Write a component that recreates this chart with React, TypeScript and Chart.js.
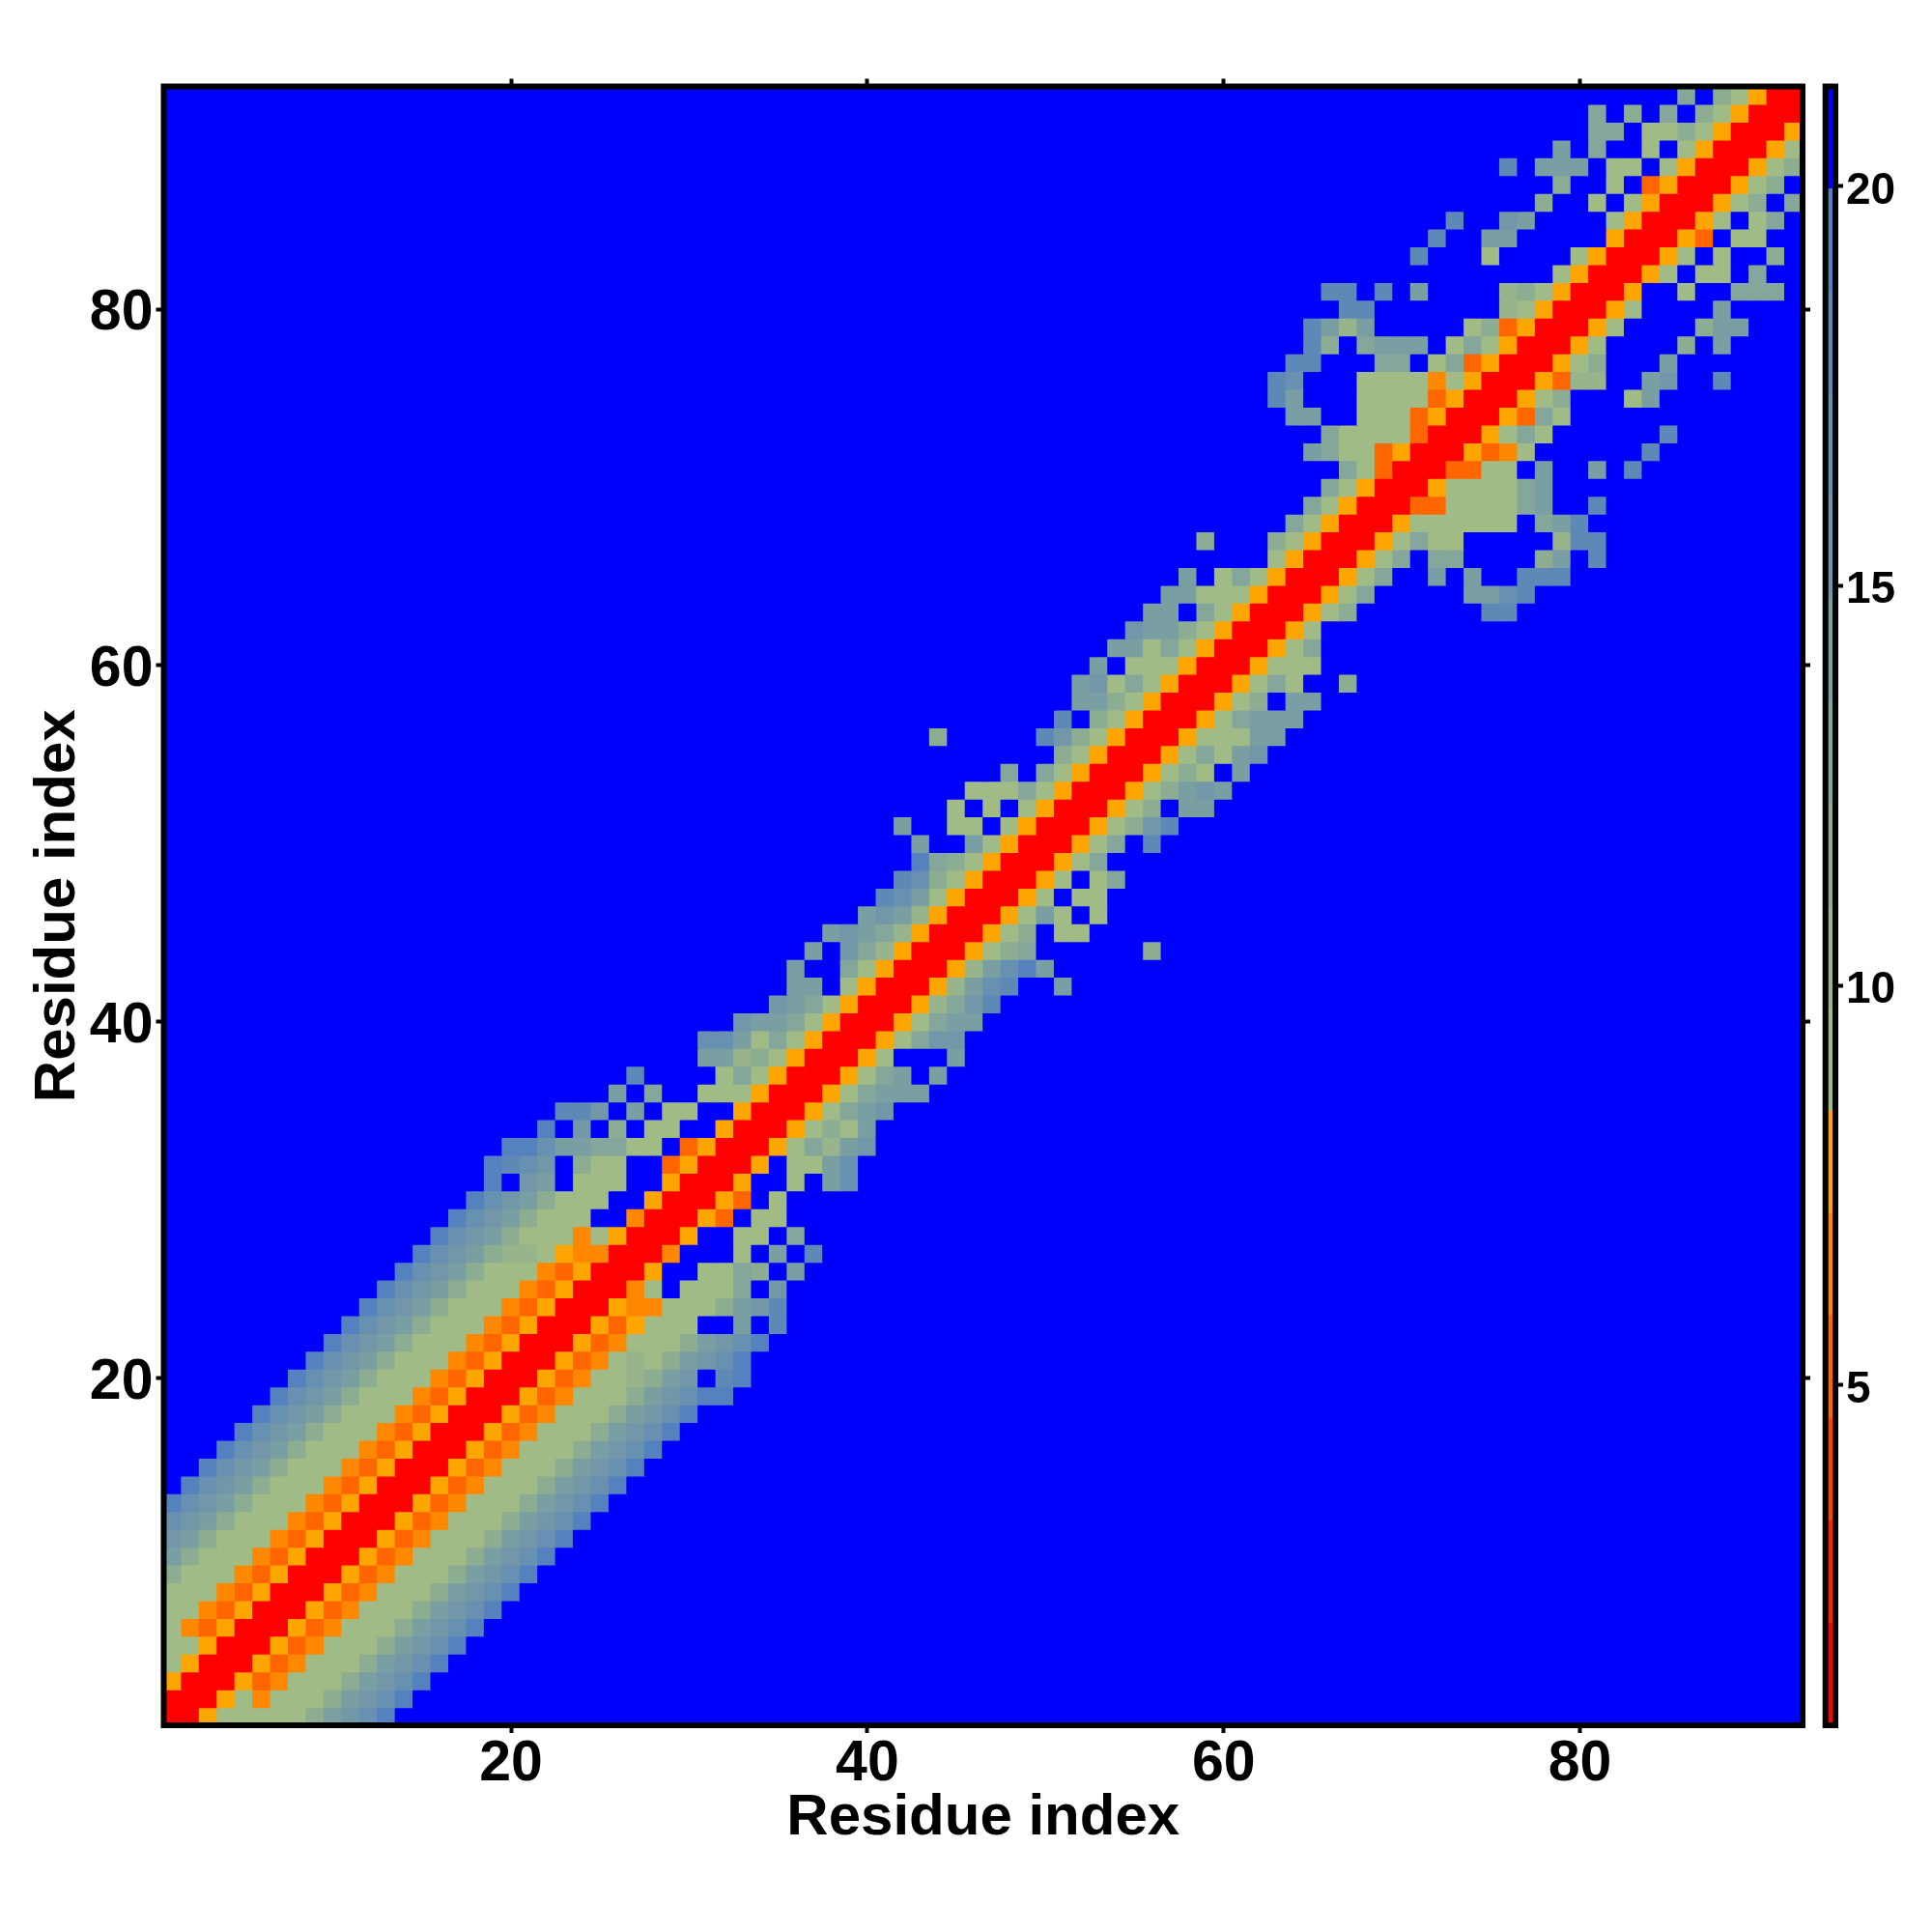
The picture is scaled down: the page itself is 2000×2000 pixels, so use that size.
import React, { useEffect, useRef } from "react";
import { Chart, registerables } from "chart.js";

Chart.register(...registerables);

const residueCount = 92;
const axisTicks = [20, 40, 60, 80];
const legendTicks = [5, 10, 15, 20];
const axisTitle = "Residue index";
const legendMin = 0.745;
const legendMax = 21.25;

// 16 colour bands of the legend, lowest first.
const bandColors = [
  "#ff0000", "#ff2200", "#ff4400", "#ff6600", "#ff8800", "#ffa500",
  "#a0bb85", "#97b48c", "#8dad93", "#84a69b", "#7a9fa2", "#7197a9",
  "#6890b0", "#5e89b7", "#5582be", "#0000ff",
];

// Upper triangle, one string per residue i. Character n is the band (hex) of the
// pair (i, i + n); every pair past the end of a string is in the top band.
const bandRows = [
  "005666668abce", "005646668abce", "005346668abce", "005346668abce", "005346668abce",
  "005346668abce", "005346668abce", "005346668abce", "005346668abce", "005346668abce",
  "005346668abce", "005346668abce", "005346668abce", "005346668abce", "005346668abce",
  "005346668abce", "005346668abce", "005346668abce", "005346668abcee", "005346678abfde",
  "005346768abce", "005346668abce", "00535666ffafd", "005446668abd", "0046f6669fb",
  "005ff6698fa", "004fff6fafd", "005ff66f9", "0053f66", "0053f6",
  "005ff6fac", "005f66ac", "005697ab", "005686a", "00569ab",
  "00569aaa", "00569afa", "0056fffa", "00569bb", "00569aa",
  "00579bd", "0057acdffa", "0057acea", "005689ffffff8", "00568f66",
  "0056a6f6", "0056f66", "0056f69", "00569", "00569fd",
  "00568bd", "00568faa", "00568aba", "005686fa", "005696ab",
  "005666aa", "00569aaa", "00568faa", "005696ff8", "005666",
  "00569", "0056", "00568fffffffdd", "00569fffffaacd", "00569ffafaffddd",
  "00569f99ffff8afd", "0056966fffff7dd", "005666666f9ad", "003366669affd", "00566669a",
  "003366faffafd", "005346ffffffd", "005696ffffffd", "005396", "00568fff6a",
  "005377ffabffd", "00568fffa", "0056ffff8fa", "0056ffff8aa", "0056ffffa",
  "005ff6ff999", "0056f66f9", "0056f6ff8", "0053f66", "0056f69",
  "00568f9", "00568", "00568", "0056", "005",
  "00", "0",
];

function bandWidth() {
  return (legendMax - legendMin) / bandColors.length;
}

function bandOfPair(a: number, b: number) {
  const row = bandRows[Math.min(a, b) - 1] || "";
  const ch = row[Math.abs(a - b)];
  return ch === undefined ? 15 : parseInt(ch, 16);
}

function buildCells() {
  const cells: { x: number; y: number; v: number }[] = [];
  for (let y = 1; y <= residueCount; y++) {
    for (let x = 1; x <= residueCount; x++) {
      cells.push({ x, y, v: legendMin + (bandOfPair(x, y) + 0.5) * bandWidth() });
    }
  }
  return cells;
}

function colorOf(v: number) {
  const i = Math.floor((v - legendMin) / bandWidth());
  return bandColors[Math.max(0, Math.min(bandColors.length - 1, i))];
}

const framePlugin = {
  id: "frame",
  afterDatasetsDraw(chart: any) {
    const { left, top, width, height } = chart.chartArea;
    const ctx = chart.ctx;
    ctx.save();
    ctx.lineWidth = 6;
    ctx.strokeStyle = "#000";
    ctx.strokeRect(left, top, width, height);
    ctx.restore();
  },
};

const FONT = "'Liberation Sans', Arial, sans-serif";
const setTicks = (values: number[]) => (s: any) => {
  s.ticks = values.map((value) => ({ value }));
};
const fixW = (w: number) => (s: any) => {
  s.width = w;
};
const fixH = (h: number) => (s: any) => {
  s.height = h;
};
const markGrid = {
  display: true,
  drawOnChartArea: false,
  drawTicks: true,
  tickLength: 8,
  tickWidth: 4,
  tickColor: "#000",
};

export default function App() {
  const mainRef = useRef<HTMLCanvasElement>(null);
  const barRef = useRef<HTMLCanvasElement>(null);

  useEffect(() => {
    const range = { min: 0.5, max: residueCount + 0.5 };
    const main = new Chart(mainRef.current as HTMLCanvasElement, {
      type: "scatter",
      data: {
        datasets: [
          {
            data: buildCells() as any,
            pointStyle: "rect",
            pointRadius: 13.85,
            pointBorderWidth: 0,
            pointBackgroundColor: (c: any) => colorOf(c.raw.v),
          } as any,
        ],
      },
      plugins: [framePlugin],
      options: {
        animation: false,
        responsive: false,
        devicePixelRatio: 1,
        events: [],
        layout: { padding: 0 },
        plugins: { legend: { display: false }, tooltip: { enabled: false } },
        scales: {
          x: {
            type: "linear",
            position: "bottom",
            ...range,
            afterBuildTicks: setTicks(axisTicks),
            afterFit: fixH(214),
            grid: markGrid,
            border: { display: false },
            ticks: {
              autoSkip: false,
              maxRotation: 0,
              padding: -3,
              color: "#000",
              font: { family: FONT, weight: "bold", size: 59 },
            },
            title: {
              display: true,
              text: axisTitle,
              color: "#000",
              font: { family: FONT, weight: "bold", size: 60 },
              padding: { top: 0, bottom: 82 },
            },
          },
          y: {
            type: "linear",
            position: "left",
            ...range,
            afterBuildTicks: setTicks(axisTicks),
            afterFit: fixW(169.5),
            grid: markGrid,
            border: { display: false },
            ticks: {
              autoSkip: false,
              padding: 3,
              labelOffset: 5,
              color: "#000",
              font: { family: FONT, weight: "bold", size: 59 },
            },
            title: {
              display: true,
              text: axisTitle,
              color: "#000",
              font: { family: FONT, weight: "bold", size: 60 },
              padding: { top: 24, bottom: 0 },
            },
          },
          xTop: {
            type: "linear",
            position: "top",
            ...range,
            afterBuildTicks: setTicks(axisTicks),
            afterFit: fixH(89.5),
            grid: markGrid,
            border: { display: false },
            ticks: { display: false },
          },
          yRight: {
            type: "linear",
            position: "right",
            ...range,
            afterBuildTicks: setTicks(axisTicks),
            afterFit: fixW(134),
            grid: markGrid,
            border: { display: false },
            ticks: { display: false },
          },
        },
      } as any,
    });

    const bar = new Chart(barRef.current as HTMLCanvasElement, {
      type: "bar",
      data: {
        labels: ["distance"],
        datasets: bandColors.map((color, i) => ({
          data: [[legendMin + i * bandWidth(), legendMin + (i + 1) * bandWidth()]] as any,
          backgroundColor: color,
          grouped: false,
          barPercentage: 1,
          categoryPercentage: 1,
          borderWidth: 0,
        })),
      },
      plugins: [framePlugin],
      options: {
        animation: false,
        responsive: false,
        devicePixelRatio: 1,
        events: [],
        layout: { padding: { left: 19.7, top: 89.5, bottom: 214, right: 0 } },
        plugins: { legend: { display: false }, tooltip: { enabled: false } },
        scales: {
          x: { display: false },
          y: {
            type: "linear",
            position: "right",
            min: legendMin,
            max: legendMax,
            afterBuildTicks: setTicks(legendTicks),
            afterFit: fixW(100),
            grid: markGrid,
            border: { display: false },
            ticks: {
              autoSkip: false,
              padding: 3,
              labelOffset: 5,
              color: "#000",
              font: { family: FONT, weight: "bold", size: 46 },
            },
          },
        },
      } as any,
    });

    return () => {
      main.destroy();
      bar.destroy();
    };
  }, []);

  return (
    <div style={{ position: "absolute", left: 0, top: 0, width: 2000, height: 2000 }}>
      <canvas ref={mainRef} width={2000} height={2000} style={{ position: "absolute", left: 0, top: 0, width: 2000, height: 2000 }} />
      <canvas ref={barRef} width={130} height={2000} style={{ position: "absolute", left: 1870, top: 0, width: 130, height: 2000 }} />
    </div>
  );
}
